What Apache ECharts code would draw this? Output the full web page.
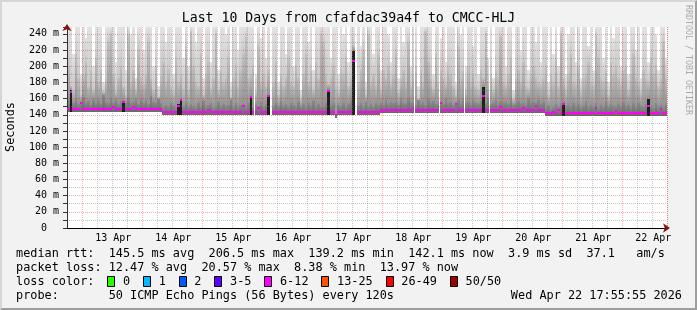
<!DOCTYPE html>
<html><head><meta charset="utf-8">
<script src="https://cdn.jsdelivr.net/npm/echarts@6/dist/echarts.min.js"></script>
<style>
html,body{margin:0;padding:0;background:#f2f2f2;}
#c{position:absolute;left:0;top:0;width:697px;height:310px;}
#frame{position:absolute;left:0;top:0;width:697px;height:310px;box-sizing:border-box;border-top:2px solid #d6d6d6;border-left:2px solid #d6d6d6;border-right:2px solid #9e9e9e;border-bottom:2px solid #9e9e9e;pointer-events:none;}
</style></head><body>
<div id="c"></div><div id="frame"></div>
<script>
// ---- data (hourly columns, 12 Apr 17:55 -> 22 Apr 17:55) ----
const dayLabels = ['13 Apr','14 Apr','15 Apr','16 Apr','17 Apr','18 Apr','19 Apr','20 Apr','21 Apr','22 Apr'];
const yTickStep = 20;

const rttMedian = [
147,168,147,147,147,154,147,147,147,147,
147,147,147,147,147,147,147,147,150,147,
147,147,156,147,147,147,150,147,147,147,
147,147,147,147,147,147,147,147,143.3,143.3,
143.3,143.3,143.3,143.3,151,158,143.3,143.3,143.3,143.3,
143.3,143.3,143.3,143.3,143.3,143.3,146,143.3,143.3,143.3,
143.3,143.3,143.3,143.3,143.3,143.3,143.3,143.3,143.3,143.3,
151,143.3,143.3,162.5,143.3,143.3,148,143.3,143.3,143.3,
163,null,143.3,143.3,143.3,143.3,143.3,143.3,143.3,143.3,
143.3,143.3,143.3,143.3,143.3,143.3,143.3,143.3,143.3,143.3,
143.3,143.3,143.3,143.3,169,143.3,143.3,139.2,143.3,143.3,
143.3,143.3,143.3,143.3,206.5,null,143.3,143.3,143.3,143.3,
143.3,143.3,143.3,143.3,143.3,146.2,146.2,146.2,146.2,146.2,
146.2,146.2,146.2,146.2,146.2,146.2,146.2,146.2,148.5,146.2,
146.2,146.2,146.2,146.2,146.2,146.2,146.2,146.2,146.2,154,
146.2,146.2,146.2,146.2,146.2,153,146.2,146.2,146.2,146.2,
146.2,146.2,146.2,146.2,146.2,146.2,163,146.2,146.2,146.2,
146.2,146.2,146.2,149,146.2,146.2,146.2,146.2,146.2,146.2,
146.2,146.2,148,146.2,146.2,146.2,146.2,151,146.2,146.2,
146.2,142.1,142.1,142.1,144,142.1,146,142.1,153.5,142.1,
142.1,142.1,142.1,142.1,142.1,142.1,142.1,142.1,142.1,142.1,
142.1,148,142.1,142.1,142.1,142.1,142.1,142.1,142.1,145,
142.1,142.1,142.1,142.1,142.1,142.1,142.1,142.1,142.1,142.1,
142.1,142.1,151,142.1,142.1,142.1,142.1,147,142.1,142.1
];

const smokeLow = [
143.5,143.5,143.5,143.5,143.5,143.5,143.5,143.5,143.5,143.5,
143.5,143.5,143.5,143.5,143.5,143.5,143.5,143.5,143.5,143.5,
143.5,143.5,143.5,143.5,143.5,143.5,143.5,143.5,143.5,143.5,
143.5,143.5,143.5,143.5,143.5,143.5,143.5,143.5,139.8,139.8,
139.8,139.8,139.8,139.8,139.8,139.8,139.8,139.8,139.8,139.8,
139.8,139.8,139.8,139.8,139.8,139.8,139.8,139.8,139.8,139.8,
139.8,139.8,139.8,139.8,139.8,139.8,139.8,139.8,139.8,139.8,
139.8,139.8,139.8,139.8,139.8,139.8,139.8,139.8,139.8,139.8,
139.8,null,139.8,139.8,139.8,139.8,139.8,139.8,139.8,139.8,
139.8,139.8,139.8,139.8,139.8,139.8,139.8,139.8,139.8,139.8,
139.8,139.8,139.8,139.8,139.8,139.8,139.8,135.5,139.8,139.8,
139.8,139.8,139.8,139.8,139.8,null,139.8,139.8,139.8,139.8,
139.8,139.8,139.8,139.8,139.8,142.6,142.6,142.6,142.6,142.6,
142.6,142.6,142.6,142.6,142.6,142.6,142.6,142.6,142.6,142.6,
142.6,142.6,142.6,142.6,142.6,142.6,142.6,142.6,142.6,142.6,
142.6,142.6,142.6,142.6,142.6,142.6,142.6,142.6,142.6,142.6,
142.6,142.6,142.6,142.6,142.6,142.6,142.6,142.6,142.6,142.6,
142.6,142.6,142.6,142.6,142.6,142.6,142.6,142.6,142.6,142.6,
142.6,142.6,142.6,142.6,142.6,142.6,142.6,142.6,142.6,142.6,
142.6,138.6,138.6,138.6,138.6,138.6,138.6,138.6,138.6,138.6,
138.6,138.6,138.6,138.6,138.6,138.6,138.6,138.6,138.6,138.6,
138.6,138.6,138.6,138.6,138.6,138.6,138.6,138.6,138.6,138.6,
138.6,138.6,138.6,138.6,138.6,138.6,138.6,138.6,138.6,138.6,
138.6,138.6,138.6,138.6,138.6,138.6,138.6,138.6,138.6,138.6
];

const smokeDark = [
158,170,155,160,153,156,162,154,157,152,
160,155,158,153,165,156,154,161,155,159,
153,157,158,155,162,154,156,159,153,160,
155,158,153,163,156,154,159,155,150,152,
149,155,151,148,153,160,150,156,149,153,
151,148,154,150,157,149,152,155,148,151,
156,150,153,149,152,158,150,154,148,152,
153,150,155,164,149,152,151,156,150,153,
165,null,150,154,149,157,151,153,150,155,
152,149,156,150,153,148,155,151,157,150,
153,150,149,155,172,151,154,141,152,149,
155,150,153,158,219,null,151,154,149,156,
150,153,149,155,152,155,152,158,153,156,
154,157,152,159,155,153,161,154,156,152,
158,153,156,152,160,154,157,153,155,156,
153,159,154,156,152,155,158,153,160,154,
156,152,158,155,153,157,174,154,159,153,
155,158,152,157,154,156,153,160,152,155,
157,153,155,152,159,154,156,155,158,153,
156,148,151,147,150,153,149,154,156,150,
152,149,155,150,153,148,151,156,149,152,
150,154,148,152,149,157,150,153,151,150,
153,149,156,150,152,148,154,150,155,151,
149,153,160,151,148,155,150,152,149,153
];

const smokeMid = [
200,175,170,215,185,165,190,205,175,195,
170,210,180,195,168,185,230,240,190,168,
185,200,175,165,238,180,195,170,220,185,
178,190,230,185,170,200,162,188,205,180,
195,175,168,210,180,190,172,225,170,242,
200,180,175,215,165,190,205,172,185,240,
170,195,180,185,210,162,185,200,175,195,
215,236,185,190,200,168,225,180,190,175,
195,null,180,205,165,190,175,185,210,180,
175,200,185,160,190,215,180,195,170,205,
185,240,230,190,178,185,200,175,168,195,
190,210,175,185,225,null,180,195,220,165,
238,180,190,175,215,170,195,185,200,178,
190,220,168,185,195,180,230,175,190,200,
160,195,180,242,205,185,172,215,180,195,
185,178,200,190,175,165,225,185,195,172,
200,180,190,175,170,195,185,240,180,190,
170,195,185,236,180,175,190,210,160,185,
195,180,205,175,172,190,200,185,180,178,
185,200,165,190,180,210,175,240,185,170,
190,215,180,178,200,168,185,190,205,180,
175,238,210,185,180,195,165,205,190,200,
185,178,195,200,170,190,215,185,180,168,
195,185,180,210,190,200,175,185,230,185
];

const smokeTop = [
248,248,215,248,248,190,248,235,248,248,
200,248,248,248,180,248,248,248,248,205,
248,248,248,195,248,240,248,185,248,248,
220,248,248,248,200,248,175,248,248,230,
248,248,190,248,248,248,210,248,200,248,
248,230,248,248,185,248,248,205,248,248,
195,248,248,240,248,180,248,248,220,248,
248,248,248,248,248,190,248,235,248,210,
248,null,248,248,180,248,248,215,248,248,
200,248,248,170,248,248,230,248,195,248,
248,248,248,248,248,210,248,248,190,248,
240,248,205,248,248,null,248,225,248,180,
248,248,215,248,248,195,248,248,240,205,
248,248,185,248,230,248,248,200,248,248,
175,248,248,248,248,248,190,248,248,235,
248,205,248,248,248,180,248,240,248,200,
248,248,225,248,190,248,248,248,210,248,
185,248,248,248,248,200,248,248,170,248,
248,220,248,248,195,248,248,230,248,205,
248,248,180,248,215,248,200,248,248,190,
240,248,248,205,248,185,248,248,225,248,
195,248,248,248,210,248,180,248,235,248,
248,200,248,248,190,248,248,220,248,185,
248,248,205,248,248,240,195,248,248,210
];

const spikeCols = [1,22,44,45,73,80,104,114,166,198,232];
const spikeTops = [170,157,153,158,163,163,171,219,174,155,160];

const lossLabels = ['0','1','2','3-5','6-12','13-25','26-49','50/50'];
const lossColors = ['#26ff00','#00b8ff','#0059ff','#5e00ff','#ff00ff','#ff5500','#ff0000','#a10000'];

const titleText = 'Last 10 Days from cfafdac39a4f to CMCC-HLJ';
const legendLines = [
  'median rtt:  145.5 ms avg  206.5 ms max  139.2 ms min  142.1 ms now  3.9 ms sd  37.1   am/s',
  'packet loss: 12.47 % avg  20.57 % max  8.38 % min  13.97 % now',
  'loss color:',
  'probe:       50 ICMP Echo Pings (56 Bytes) every 120s'
];
const stampText = 'Wed Apr 22 17:55:55 2026';

// ---- build ----
const n = rttMedian.length;
const cats = rttMedian.map((_, i) => i);
const smokeData = [];
cats.forEach(i => {
  if (smokeLow[i] != null) smokeData.push([i, smokeLow[i], smokeDark[i], smokeMid[i], smokeTop[i]]);
});
const spikeData = spikeCols.map((c, k) => [c, smokeLow[c], spikeTops[k]]);
const medianData = [];
cats.forEach(i => { if (rttMedian[i] != null) medianData.push([i, rttMedian[i]]); });

const grad = (a, b) => ({type:'linear', x:0, y:1, x2:0, y2:0, colorStops:[{offset:0, color:a}, {offset:1, color:b}]});
const SMOKE_FILLS = [grad('#686868', '#8a8a8a'), grad('#939393', '#c0c0c0'), grad('#c8c8c8', '#e2e2e2')];
function colSpan(api, i) {
  const c = api.coord([i, 0])[0];
  const bw = api.size([1, 0])[0];
  const x0 = Math.round(c - bw / 2), x1 = Math.round(c + bw / 2);
  return [x0, x1 - x0];
}
function yPix(api, i, v) { return Math.round(api.coord([i, v])[1]); }
function smokeRender(params, api) {
  const i = api.value(0);
  const [x, w] = colSpan(api, i);
  const ys = [1, 2, 3, 4].map(d => yPix(api, i, api.value(d)));
  const children = [];
  for (let k = 0; k < 3; k++) {
    children.push({type:'rect', shape:{x:x, y:ys[k + 1], width:w, height:ys[k] - ys[k + 1]}, style:{fill:SMOKE_FILLS[k]}});
  }
  return {type:'group', children:children};
}
function spikeRender(params, api) {
  const i = api.value(0);
  const [x, w] = colSpan(api, i);
  const y0 = yPix(api, i, api.value(1)), y1 = yPix(api, i, api.value(2));
  return {type:'rect', shape:{x:x, y:y1, width:w, height:y0 - y1}, style:{fill:'#1e1e1e'}};
}
function medianRender(params, api) {
  const i = api.value(0);
  const [x, w] = colSpan(api, i);
  const y = Math.round(api.coord([i, api.value(1)])[1] - 1);
  return {type:'rect', shape:{x:x, y:y, width:w, height:2}, style:{fill:'#ff00ff'}};
}

const MONO = '"DejaVu Sans Mono", monospace';
const legFont = '11.85px ' + MONO;
const cw = 11.85 * 0.6021;

const graphics = [
  {type:'text', x:348.5, y:19, style:{text:titleText, font:'13.2px ' + MONO, fill:'#000', align:'center', verticalAlign:'middle'}},
  {type:'text', x:11, y:127, rotation:Math.PI/2, style:{text:'Seconds', font:legFont, fill:'#000', align:'center', verticalAlign:'middle'}},
  {type:'text', x:688.5, y:5, rotation:-Math.PI/2, style:{text:'RRDTOOL / TOBI OETIKER', font:'8.3px ' + MONO, fill:'#aaaaaa', align:'left', verticalAlign:'middle'}},
  {type:'text', x:682, y:296, style:{text:stampText, font:legFont, fill:'#000', align:'right', verticalAlign:'middle'}}
];
const lineY = [254, 268, 282, 296];
legendLines.forEach((t, k) => graphics.push({type:'text', x:16, y:lineY[k], style:{text:t, font:legFont, fill:'#000', align:'left', verticalAlign:'middle'}}));
let idx = 13;
lossLabels.forEach((lab, k) => {
  const bx = 16 + idx * cw;
  graphics.push({type:'rect', shape:{x:Math.floor(bx) - 0.5, y:276.5, width:7, height:10}, style:{fill:lossColors[k], stroke:'#000', lineWidth:1}});
  graphics.push({type:'text', x:16 + (idx + 2) * cw, y:282, style:{text:lab, font:legFont, fill:'#000', align:'left', verticalAlign:'middle'}});
  idx += 2 + lab.length + 2;
});

const redGrid = 'rgba(255,0,0,0.33)';
const greyGrid = 'rgba(120,120,120,0.42)';

const chart = echarts.init(document.getElementById('c'), null, {renderer:'canvas'});
chart.setOption({
  animation:false,
  backgroundColor:'transparent',
  grid:{left:67, right:30, top:27, bottom:82, show:true, backgroundColor:'#ffffff', borderWidth:0, containLabel:false},
  xAxis:[
    {type:'category', data:cats, boundaryGap:true, z:3,
     axisLine:{show:true, lineStyle:{color:'#000', width:1}},
     axisTick:{show:false},
     axisLabel:{interval:(i) => i % 24 === 18, formatter:(v, i) => dayLabels[Math.round((i - 18) / 24)] || '',
                fontFamily:MONO, fontSize:10, color:'#000', margin:5},
     splitLine:{show:true, interval:(i) => i > 0 && i < n && i % 6 === 0 && i % 24 !== 6,
                lineStyle:{color:greyGrid, type:[1,1], width:1}}},
    {type:'category', data:cats, boundaryGap:true, position:'bottom', offset:0, z:3,
     axisLine:{show:true, symbol:['none','arrow'], symbolSize:[7,7], symbolOffset:[0,3], lineStyle:{color:'#8b1010', width:0}},
     axisTick:{show:false}, axisLabel:{show:false},
     splitLine:{show:true, interval:(i) => i < n && i % 24 === 6, lineStyle:{color:redGrid, type:[1,1], width:1}}}
  ],
  yAxis:[
    {type:'value', min:0, max:248.5, interval:10, z:3,
     axisLine:{show:true, lineStyle:{color:'#333', width:1}},
     axisTick:{show:true, length:4, lineStyle:{color:'#333'}},
     axisLabel:{formatter:(v) => (v % yTickStep === 0 ? (v === 0 ? '0  ' : v + ' m') : ''), fontFamily:MONO, fontSize:10, color:'#000', margin:8},
     splitLine:{show:true, showMaxLine:false, lineStyle:{color:[redGrid, greyGrid], type:[1,1], width:1}}},
    {type:'value', min:0, max:248.5, position:'left', offset:0, z:3,
     axisLine:{show:true, symbol:['none','arrow'], symbolSize:[7,7], symbolOffset:[0,3], lineStyle:{color:'#8b1010', width:0}},
     axisTick:{show:false}, axisLabel:{show:false}, splitLine:{show:false}}
  ],
  series:[
    {type:'custom', name:'smoke', data:smokeData, renderItem:smokeRender, encode:{x:0, y:[1,2,3,4]}, silent:true, z:1},
    {type:'custom', name:'spike', data:spikeData, renderItem:spikeRender, encode:{x:0, y:[1,2]}, silent:true, z:1},
    {type:'custom', name:'median rtt', data:medianData, renderItem:medianRender, encode:{x:0, y:1}, silent:true, z:5}
  ],
  graphic:graphics
});
</script></body></html>
